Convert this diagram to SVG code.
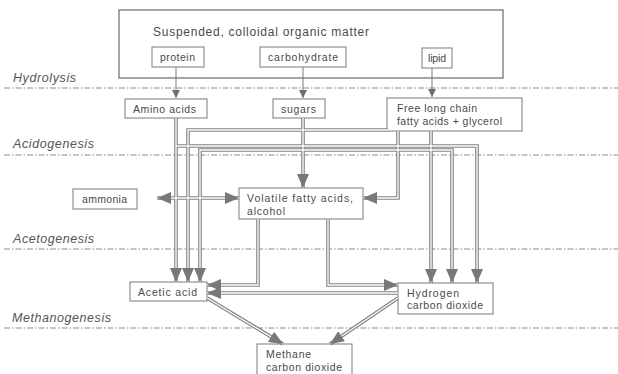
<svg xmlns="http://www.w3.org/2000/svg" xmlns:xlink="http://www.w3.org/1999/xlink" width="618" height="374" viewBox="0 0 618 374">
<style>
.bx{fill:#fff;stroke:#7a7a7a;stroke-width:1}
.ob{fill:none;stroke:#6a6a6a;stroke-width:1.2}
.t{font-family:"Liberation Sans",Arial,sans-serif;font-size:10.5px;fill:#4a4a4a}
.tt{font-family:"Liberation Sans",Arial,sans-serif;font-size:12px;fill:#4a4a4a}
.ph{font-family:"Liberation Sans",Arial,sans-serif;font-size:12.5px;font-style:italic;fill:#555}
.dl{stroke:#8a8a8a;stroke-width:1;stroke-dasharray:6 2 1.5 2;fill:none}
.o{fill:none;stroke:#828282;stroke-width:3.6}
.i{fill:none;stroke:#fff;stroke-width:1.3}
.a{fill:none;stroke:none;marker-end:url(#ah)}
.thin{fill:none;stroke:#7a7a7a;stroke-width:1;marker-end:url(#sh)}
</style>
<defs>
<marker id="ah" markerUnits="userSpaceOnUse" markerWidth="14" markerHeight="12" viewBox="0 0 14 12" refX="14" refY="6" orient="auto-start-reverse">
<path d="M0 0 L14 6 L0 12 Z" fill="#787878"/>
</marker>
<marker id="sh" markerUnits="userSpaceOnUse" markerWidth="8" markerHeight="8" viewBox="0 0 8 8" refX="8" refY="4" orient="auto">
<path d="M0 0 L8 4 L0 8 Z" fill="#6e6e6e"/>
</marker>
</defs>

<g id="phases">
<line class="dl" x1="4" y1="88" x2="618" y2="88"/>
<line class="dl" x1="4" y1="155" x2="618" y2="155"/>
<line class="dl" x1="4" y1="249" x2="618" y2="249"/>
<line class="dl" x1="4" y1="328" x2="618" y2="328"/>
<text class="ph" x="13" y="82" textLength="63">Hydrolysis</text>
<text class="ph" x="13" y="148" textLength="81">Acidogenesis</text>
<text class="ph" x="13" y="243" textLength="81">Acetogenesis</text>
<text class="ph" x="12" y="322" textLength="99">Methanogenesis</text>
</g>

<g id="organic-matter">
<rect class="ob" x="119" y="10" width="384" height="68"/>
<text class="tt" x="153" y="36" textLength="216">Suspended, colloidal organic matter</text>
</g>
<g id="protein"><rect class="bx" x="152" y="47" width="52" height="20"/><text class="t" x="160" y="61" textLength="35">protein</text></g>
<g id="carbohydrate"><rect class="bx" x="260" y="47" width="86" height="20"/><text class="t" x="268" y="61" textLength="70">carbohydrate</text></g>
<g id="lipid"><rect class="bx" x="422" y="48" width="30" height="20"/><text class="t" x="428" y="62" textLength="18">lipid</text></g>

<g id="amino-acids"><rect class="bx" x="125" y="99" width="82" height="19"/><text class="t" x="133" y="113" textLength="63">Amino acids</text></g>
<g id="sugars"><rect class="bx" x="273" y="99" width="52" height="19"/><text class="t" x="281" y="113" textLength="35">sugars</text></g>
<g id="free-long-chain"><rect class="bx" x="387" y="98" width="135" height="33"/><text class="t" x="397" y="112" textLength="80">Free long chain</text><text class="t" x="397" y="125" textLength="105">fatty acids + glycerol</text></g>

<g id="ammonia"><rect class="bx" x="73" y="189" width="64" height="20"/><text class="t" x="82" y="203" textLength="45">ammonia</text></g>
<g id="volatile-fatty-acids"><rect class="bx" x="239" y="188" width="124" height="31"/><text class="t" x="247" y="202" textLength="106">Volatile fatty  acids,</text><text class="t" x="247" y="215" textLength="38">alcohol</text></g>

<g id="acetic-acid"><rect class="bx" x="130" y="282" width="77" height="19"/><text class="t" x="138" y="296" textLength="59">Acetic acid</text></g>
<g id="hydrogen-co2"><rect class="bx" x="398" y="283" width="95" height="31"/><text class="t" x="407" y="297" textLength="52">Hydrogen</text><text class="t" x="407" y="309" textLength="76">carbon dioxide</text></g>

<g id="methane-co2"><rect class="bx" x="257" y="344" width="95" height="40"/><text class="t" x="266" y="358" textLength="45">Methane</text><text class="t" x="266" y="371" textLength="76">carbon dioxide</text></g>

<g id="connectors">
<path class="thin" d="M176 67 V98"/>
<path class="thin" d="M303 67 V98"/>
<path class="thin" d="M432 68 V97"/>
<defs>
<path id="c1" d="M176 118 V282"/>
<path id="c2" d="M176 146 H477 V283"/>
<path id="c3" d="M388 130 H188 V282"/>
<path id="c4" d="M303 150 H200 V282"/>
<path id="c5" d="M303 150 H452 V283"/>
<path id="c6" d="M303 118 V188"/>
<path id="c7" d="M398 131 V198 H363"/>
<path id="c8" d="M431 131 V283"/>
<path id="c9" d="M157 198 H239"/>
<path id="c10" d="M258 219 V285 H207"/>
<path id="c11" d="M328 219 V285 H398"/>
<path id="c12" d="M398 293 H207"/>
<path id="c13" d="M207 298 L283 344"/>
<path id="c14" d="M398 298 L330 344"/>
</defs>
<use href="#c1" class="o"/><use href="#c2" class="o"/><use href="#c3" class="o"/><use href="#c4" class="o"/><use href="#c5" class="o"/><use href="#c6" class="o"/><use href="#c7" class="o"/><use href="#c8" class="o"/><use href="#c9" class="o"/><use href="#c10" class="o"/><use href="#c11" class="o"/><use href="#c12" class="o"/><use href="#c13" class="o"/><use href="#c14" class="o"/>
<use href="#c1" class="i"/><use href="#c2" class="i"/><use href="#c3" class="i"/><use href="#c4" class="i"/><use href="#c5" class="i"/><use href="#c6" class="i"/><use href="#c7" class="i"/><use href="#c8" class="i"/><use href="#c9" class="i"/><use href="#c10" class="i"/><use href="#c11" class="i"/><use href="#c12" class="i"/><use href="#c13" class="i"/><use href="#c14" class="i"/>
<use href="#c1" class="a"/><use href="#c2" class="a"/><use href="#c3" class="a"/><use href="#c4" class="a"/><use href="#c5" class="a"/><use href="#c6" class="a"/><use href="#c7" class="a"/><use href="#c8" class="a"/><use href="#c9" class="a" style="marker-start:url(#ah)"/><use href="#c10" class="a"/><use href="#c11" class="a"/><use href="#c12" class="a"/><use href="#c13" class="a"/><use href="#c14" class="a"/>
</g>
</svg>
